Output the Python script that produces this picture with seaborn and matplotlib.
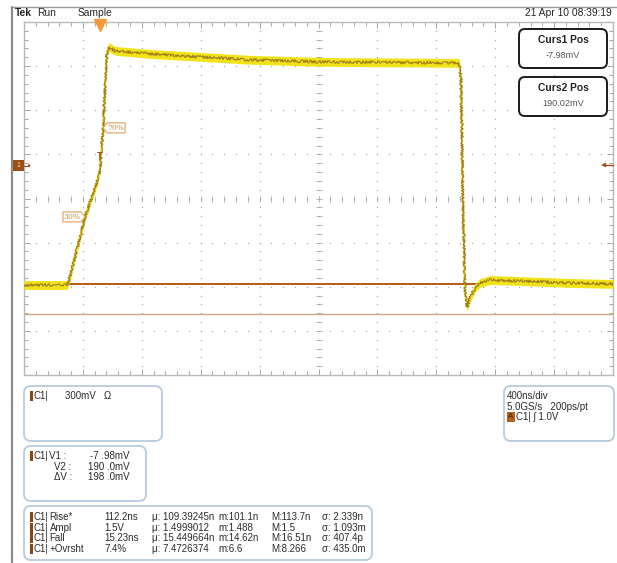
import numpy as np
import matplotlib
matplotlib.use("Agg")
import matplotlib.pyplot as plt
from matplotlib.patches import FancyBboxPatch, Rectangle, Polygon
from matplotlib.lines import Line2D
from matplotlib.transforms import Affine2D
import seaborn as sns

# trace (time in ns, volts)
time_ns = [0, 292, 312, 414, 496, 516, 523, 537, 550, 564, 577, 618, 856, 1195,
           1535, 2010, 2954, 2968, 2981, 2995, 3009, 3029, 3063, 3097, 3165,
           3368, 3708, 4000]
volts = [0.0, 0.0, 0.054, 0.463, 0.701, 0.782, 0.884, 1.068, 1.327, 1.585, 1.619,
         1.592, 1.571, 1.551, 1.531, 1.517, 1.510, 1.395, 0.578, -0.034, -0.150,
         -0.088, -0.020, 0.014, 0.034, 0.027, 0.014, 0.007]

ns_per_div = 400
v_per_div = 0.3
v_mid = 0.588
trigger_ns = 516
trigger_v = 0.87
cursor_v = [0.007, -0.197]

# threshold tags: label, time, volts, side the tag sits on
tags = [("70%", 537, 1.068, "right"), ("30%", 414, 0.463, "left")]

header = ["Tek", "Run", "Sample"]
stamp = "21 Apr 10 08:39:19"
cursor_boxes = [("Curs1 Pos", "-7.98mV"), ("Curs2 Pos", "190.02mV")]
vert_text = "300mV   \u03a9"
cursor_names = ["V1 :", "V2 :", "\u0394V :"]
cursor_vals = ["-7 .98mV", "190 .0mV", "198 .0mV"]
meas_names = ["Rise*", "Ampl", "Fall", "+Ovrsht"]
meas_vals = ["112.2ns", "1.5V", "15.23ns", "7.4%"]
meas_mean = ["\u03bc: 109.39245n", "\u03bc: 1.4999012", "\u03bc: 15.449664n", "\u03bc: 7.4726374"]
meas_min = ["m:101.1n", "m:1.488", "m:14.62n", "m:6.6"]
meas_max = ["M:113.7n", "M:1.5", "M:16.51n", "M:8.266"]
meas_sd = ["\u03c3: 2.339n", "\u03c3: 1.093m", "\u03c3: 407.4p", "\u03c3: 435.0m"]
horiz_text = ["400ns/div", "5.0GS/s   200ps/pt", "C1| \u0283 1.0V"]

W, H = 617, 563
sns.set_style("white")
plt.rcParams["font.family"] = ["Liberation Sans", "DejaVu Sans"]

fig = plt.figure(figsize=(W / 100, H / 100), dpi=100)
# pixel coords, y going down
px = Affine2D().scale(1 / W, -1 / H).translate(0, 1) + fig.transFigure

L, R, T, B = 24, 613, 22, 375
ax = fig.add_axes([L / W, 1 - B / H, (R - L) / W, (B - T) / H])
ax.set_xlim(0, 10 * ns_per_div)
ax.set_ylim(v_mid - 4 * v_per_div, v_mid + 4 * v_per_div)

# graticule
maj_x = np.arange(0, 10 * ns_per_div + 1, ns_per_div)
min_x = np.arange(0, 10 * ns_per_div + 1, ns_per_div / 5)
maj_y = v_mid + v_per_div * np.arange(-4, 5)
min_y = v_mid + v_per_div / 5 * np.arange(-20, 21)
gcol = "#a6a6a6"
for x in maj_x[1:-1]:
    ax.plot([x] * len(min_y), min_y, ls="none", marker="s", ms=0.85, mew=0, color=gcol)
for y in maj_y[1:-1]:
    ax.plot(min_x, [y] * len(min_x), ls="none", marker="s", ms=0.85, mew=0, color=gcol)
ax.plot([maj_x[5]] * len(min_y), min_y, ls="none", marker="_", ms=4, mew=0.6, color=gcol)
ax.plot(min_x, [maj_y[4]] * len(min_x), ls="none", marker="|", ms=4, mew=0.6, color=gcol)
ax.set_xticks(maj_x)
ax.set_xticks(min_x, minor=True)
ax.set_yticks(maj_y)
ax.set_yticks(min_y, minor=True)
ax.tick_params(which="both", direction="in", top=True, right=True, bottom=True, left=True,
               labelbottom=False, labelleft=False, color=gcol, width=0.7)
ax.tick_params(which="major", length=4)
ax.tick_params(which="minor", length=3)
for s in ax.spines.values():
    s.set_color("#b8b8b8")
    s.set_linewidth(1)

# cursors
ax.axhline(cursor_v[0], color="#b35a18", lw=1.4, zorder=2)
ax.axhline(cursor_v[1], color="#cdaa82", lw=1.0, zorder=2)

# trace: noisy yellow band plus darker centre
v = np.array(volts)
band = ax.fill_between(time_ns, v - 0.03, v + 0.03, color="#f1e31a", lw=0, zorder=3)
band.set_sketch_params(1.8, 2.5, 2)
sns.lineplot(x=time_ns, y=volts, ax=ax, color="#f1e31a", lw=1.4, zorder=3)
sns.lineplot(x=time_ns, y=volts, ax=ax, color="#9e781a", lw=0.8, zorder=4)
ax.lines[-1].set_sketch_params(1.4, 2, 2)
ax.set_xlabel("")
ax.set_ylabel("")

# trigger markers
ax.plot([trigger_ns], [1 - 3 / (B - T)], marker="v", ms=8, color="#f39a3a",
        transform=ax.get_xaxis_transform(), clip_on=False, zorder=6)
ax.text(trigger_ns, trigger_v, "T", color="#9c561c", fontsize=7, fontweight="bold",
        ha="center", va="center", zorder=6)


def to_px(t, y):
    dx, dy = ax.transData.transform((t, y))
    return dx, H - dy


for lab, t, y, side in tags:
    x0, y0 = to_px(t, y)
    s = 1 if side == "right" else -1
    pts = [(x0, y0), (x0 + s * 4, y0 - 5), (x0 + s * 22, y0 - 5),
           (x0 + s * 22, y0 + 5), (x0 + s * 4, y0 + 5)]
    fig.add_artist(Polygon(pts, closed=True, fc="white", ec="#e3a868", lw=0.9,
                           transform=px, zorder=7))
    fig.text(x0 + s * 13, y0 + 0.5, lab, transform=px, fontsize=5.5, color="#cf8a45",
             ha="center", va="center", family="DejaVu Serif", zorder=8)

# frame lines
fig.add_artist(Line2D([12, W], [7, 7], transform=px, color="#9a9a9a", lw=1))
fig.add_artist(Line2D([12, 12], [7, H], transform=px, color="#8c8c8c", lw=1.6))

# header
fig.text(15, 13, header[0], transform=px, fontsize=7.4, fontweight="bold", va="center")
fig.text(37, 13, header[1], transform=px, fontsize=7.4, va="center")
fig.text(78, 13, header[2], transform=px, fontsize=7.4, va="center")
fig.text(612, 13, stamp, transform=px, fontsize=7.4, va="center", ha="right")

# channel offset markers
brown = "#9c4e14"
fig.add_artist(Rectangle((12, 160), 12, 11, transform=px, fc=brown, ec="none"))
fig.text(18, 165.5, "1", transform=px, fontsize=5, color="#f0d0b0", ha="center", va="center")
fig.add_artist(Line2D([24, 29], [165.5, 165.5], transform=px, color=brown, lw=0.8))
fig.add_artist(Polygon([(31, 165.5), (28, 164), (28, 167)], transform=px, fc=brown, ec="none"))
fig.add_artist(Line2D([605, 613], [165, 165], transform=px, color=brown, lw=1))
fig.add_artist(Polygon([(601, 165), (606, 162.5), (606, 167.5)], transform=px, fc=brown, ec="none"))

# cursor readout boxes
for i, (title, val) in enumerate(cursor_boxes):
    y0 = 29 + i * 48
    fig.add_artist(FancyBboxPatch((519, y0), 88, 39, boxstyle="round,pad=0,rounding_size=6",
                                  transform=px, fc="white", ec="#1a1a1a", lw=1.4))
    fig.text(563, y0 + 11, title, transform=px, fontsize=7.4, fontweight="bold",
             ha="center", va="center", color="#222222")
    fig.text(563, y0 + 27, val, transform=px, fontsize=6.6, ha="center", va="center",
             color="#555555")

# bottom readout boxes
bcol = "#b7cade"
tcol = "#2b2b2b"
fs = 7.0
for (x0, y0, w, h) in [(24, 386, 138, 55), (24, 446, 122, 55), (24, 506, 348, 54),
                       (504, 386, 110, 55)]:
    fig.add_artist(FancyBboxPatch((x0, y0), w, h, boxstyle="round,pad=0,rounding_size=7",
                                  transform=px, fc="white", ec=bcol, lw=1.3))


def bar(y):
    fig.add_artist(Rectangle((30, y - 5), 3, 10, transform=px, fc="#8a4512", ec="none"))


bar(396)
fig.text(34, 396, "C1|", transform=px, fontsize=fs, color=tcol, va="center")
fig.text(65, 396, vert_text, transform=px, fontsize=fs, color=tcol, va="center")

bar(456)
fig.text(34, 456, "C1|", transform=px, fontsize=fs, color=tcol, va="center")
for k, (n, val) in enumerate(zip(cursor_names, cursor_vals)):
    yy = 456 + k * 10.5
    fig.text(54 if k else 49, yy, n, transform=px, fontsize=fs, color=tcol, va="center")
    fig.text(130, yy, val, transform=px, fontsize=fs, color=tcol, va="center", ha="right")

cols = [meas_vals, meas_mean, meas_min, meas_max, meas_sd]
col_x = [104, 151.5, 218.5, 271.5, 322]
for k in range(len(meas_names)):
    yy = 517 + k * 10.7
    bar(yy)
    fig.text(34, yy, "C1|", transform=px, fontsize=fs, color=tcol, va="center")
    fig.text(49.5, yy, meas_names[k], transform=px, fontsize=fs, color=tcol, va="center")
    for c, cx in zip(cols, col_x):
        fig.text(cx, yy, c[k], transform=px, fontsize=fs, color=tcol, va="center")

fig.text(507, 396, horiz_text[0], transform=px, fontsize=fs, color=tcol, va="center")
fig.text(507, 406.5, horiz_text[1], transform=px, fontsize=fs, color=tcol, va="center")
fig.add_artist(Rectangle((507, 412), 8, 10, transform=px, fc="#b5601f", ec="none"))
fig.text(511, 417, "A", transform=px, fontsize=5.5, color="#4a1f05", ha="center", va="center")
fig.text(516, 417, horiz_text[2], transform=px, fontsize=fs, color=tcol, va="center")

fig.savefig("out.png", dpi=100)
